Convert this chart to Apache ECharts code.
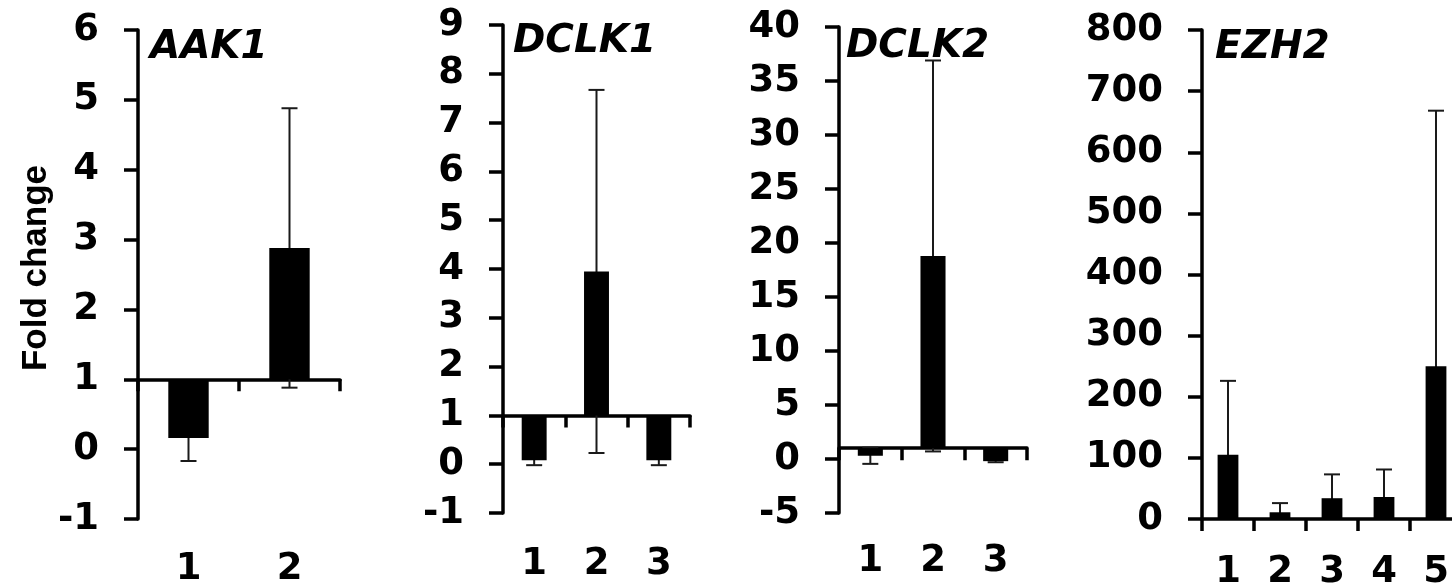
<!DOCTYPE html>
<html>
<head>
<meta charset="utf-8">
<script src="https://cdn.jsdelivr.net/npm/echarts@6/dist/echarts.min.js"></script>
<style>
  html, body { margin: 0; padding: 0; background: #fff; }
  #chart { width: 1452px; height: 583px; }
</style>
</head>
<body>
<div id="chart"></div>
<script>
// ---------- DATA ----------
const aak1Categories = ['1', '2'];
const aak1Means = [0.16, 2.88];
const aak1Errors = [0.33, 2.0];
const aak1YRange = [-1, 6];
const aak1YStep = 1;
const aak1Baseline = 1;

const dclk1Categories = ['1', '2', '3'];
const dclk1Means = [0.08, 3.95, 0.08];
const dclk1Errors = [0.1, 3.72, 0.1];
const dclk1YRange = [-1, 9];
const dclk1YStep = 1;
const dclk1Baseline = 1;

const dclk2Categories = ['1', '2', '3'];
const dclk2Means = [0.3, 18.8, -0.2];
const dclk2Errors = [0.75, 18.1, 0.1];
const dclk2YRange = [-5, 40];
const dclk2YStep = 5;
const dclk2Baseline = 1;

const ezh2Categories = ['1', '2', '3', '4', '5'];
const ezh2Means = [105, 11, 34, 36, 250];
const ezh2Errors = [121, 15, 39, 45, 418];
const ezh2YRange = [0, 800];
const ezh2YStep = 100;
const ezh2Baseline = 0;

const geneNames = ['AAK1', 'DCLK1', 'DCLK2', 'EZH2'];
const yAxisTitle = 'Fold change';

// ---------- LAYOUT / STYLE ----------
const WIDE = '"DejaVu Sans", "Liberation Sans", Arial, sans-serif';
const NARROW = '"Liberation Sans", Arial, Helvetica, sans-serif';
const panels = [
  { cats: aak1Categories, means: aak1Means, errs: aak1Errors, range: aak1YRange, step: aak1YStep, base: aak1Baseline,
    grid: { left: 138, top: 30, width: 202, height: 489 }, labelMargin: 32, title: [150, 48] },
  { cats: dclk1Categories, means: dclk1Means, errs: dclk1Errors, range: dclk1YRange, step: dclk1YStep, base: dclk1Baseline,
    grid: { left: 503, top: 25, width: 187, height: 488 }, labelMargin: 33, title: [513, 42] },
  { cats: dclk2Categories, means: dclk2Means, errs: dclk2Errors, range: dclk2YRange, step: dclk2YStep, base: dclk2Baseline,
    grid: { left: 839, top: 27, width: 188, height: 486 }, labelMargin: 30, title: [846, 47] },
  { cats: ezh2Categories, means: ezh2Means, errs: ezh2Errors, range: ezh2YRange, step: ezh2YStep, base: ezh2Baseline,
    grid: { left: 1202, top: 30, width: 260, height: 489 }, labelMargin: 35, title: [1215, 48] }
];

const AXIS_W = 3.5;
const grids = [], xAxes = [], yAxes = [], series = [], graphics = [];

function makeRender(base, yMin, yMax) {
  return function (params, api) {
    const xi = api.value(0), m = api.value(1), sd = api.value(2);
    const band = api.size([1, 0])[0];
    const bw = band * 0.4;
    const capHalf = 8;
    const pBase = api.coord([xi, base]);
    const pTop = api.coord([xi, m]);
    const loV = m - sd, hiV = m + sd;
    const pLo = api.coord([xi, Math.max(loV, yMin)]);
    const pHi = api.coord([xi, Math.min(hiV, yMax)]);
    const cx = pTop[0];
    const ls = { stroke: '#1a1a1a', lineWidth: 2 };
    const children = [
      { type: 'line', shape: { x1: cx, y1: pLo[1], x2: cx, y2: pHi[1] }, style: ls }
    ];
    if (loV >= yMin) children.push({ type: 'line', shape: { x1: cx - capHalf, y1: pLo[1], x2: cx + capHalf, y2: pLo[1] }, style: ls });
    if (hiV <= yMax) children.push({ type: 'line', shape: { x1: cx - capHalf, y1: pHi[1], x2: cx + capHalf, y2: pHi[1] }, style: ls });
    children.push({
      type: 'rect',
      shape: { x: cx - bw / 2, y: Math.min(pBase[1], pTop[1]), width: bw, height: Math.abs(pTop[1] - pBase[1]) },
      style: { fill: '#000' }
    });
    return { type: 'group', children: children };
  };
}

panels.forEach(function (p, i) {
  grids.push(Object.assign({ containLabel: false, outerBoundsMode: 'none' }, p.grid));
  const [yMin, yMax] = p.range;
  yAxes.push({
    type: 'value', gridIndex: i, min: yMin, max: yMax, interval: p.step,
    axisLine: { show: true, lineStyle: { color: '#000', width: AXIS_W } },
    axisTick: { show: true, length: 14, lineStyle: { color: '#000', width: AXIS_W } },
    axisLabel: { color: '#000', fontSize: 37, fontWeight: 'bold', fontFamily: WIDE, margin: 39 },
    splitLine: { show: false }
  });
  // label axis at bottom of grid
  xAxes.push({
    type: 'category', gridIndex: i, data: p.cats, position: 'bottom',
    axisLine: { show: false, onZero: false }, axisTick: { show: false },
    axisLabel: { color: '#000', fontSize: 37, fontWeight: 'bold', fontFamily: WIDE, margin: p.labelMargin },
    splitLine: { show: false }
  });
  // baseline axis (line + boundary ticks) at y = base
  const offset = -(p.base - yMin) / (yMax - yMin) * p.grid.height;
  xAxes.push({
    type: 'category', gridIndex: i, data: p.cats, position: 'bottom', offset: offset,
    axisLine: { show: true, onZero: false, lineStyle: { color: '#000', width: AXIS_W } },
    axisTick: { show: true, length: 12, alignWithLabel: false, lineStyle: { color: '#000', width: AXIS_W } },
    axisLabel: { show: false },
    splitLine: { show: false }
  });
  series.push({
    type: 'custom', xAxisIndex: i * 2 + 1, yAxisIndex: i,
    renderItem: makeRender(p.base, yMin, yMax),
    encode: { x: 0, y: 1 },
    data: p.means.map(function (m, k) { return [k, m, p.errs[k]]; }),
    z: 3, silent: true, animation: false
  });
  graphics.push({
    type: 'text', x: p.title[0], y: p.title[1], z: 10,
    style: { text: geneNames[i], fontSize: 39, fontWeight: 'bold', fontStyle: 'italic', fontFamily: WIDE,
             fill: '#000', align: 'left', verticalAlign: 'middle' }
  });
});

graphics.push({
  type: 'text', x: 36, y: 268, rotation: Math.PI / 2, z: 10,
  style: { text: yAxisTitle, fontSize: 35, fontWeight: 'bold', fontFamily: NARROW, fill: '#000',
           align: 'center', verticalAlign: 'middle' }
});

const chart = echarts.init(document.getElementById('chart'), null, { renderer: 'canvas' });
chart.setOption({
  backgroundColor: '#fff',
  animation: false,
  grid: grids,
  xAxis: xAxes,
  yAxis: yAxes,
  series: series,
  graphic: graphics
});
</script>
</body>
</html>
